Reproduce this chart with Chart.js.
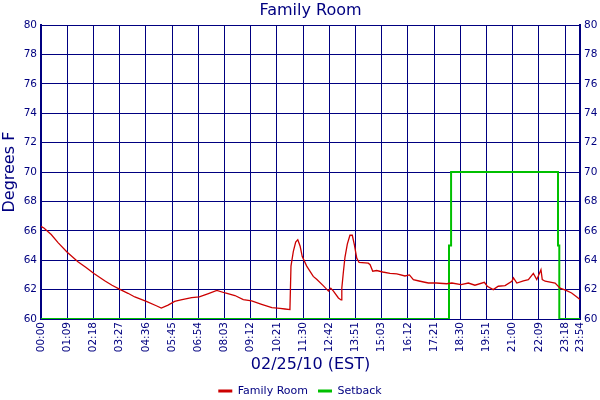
<!DOCTYPE html>
<html>
<head>
<meta charset="utf-8">
<script src="https://cdn.jsdelivr.net/npm/chart.js@4"></script>
<style>
  html, body { margin: 0; padding: 0; background: #fff; }
  #wrap { width: 600px; height: 400px; }
</style>
</head>
<body>
<div id="wrap"><canvas id="chart" width="600" height="400"></canvas></div>
<script>
// Family Room temperature vs setback, one day. x is in "tick slots" (one slot per labelled tick).

const TICK_LABELS = ['00:00', '01:09', '02:18', '03:27', '04:36', '05:45', '06:54', '08:03', '09:12', '10:21',
  '11:30', '12:42', '13:51', '15:03', '16:12', '17:21', '18:30', '19:51', '21:00', '22:09', '23:18', '23:54'];
const AXIS_END = 20.57; // where 23:54 sits

const Y_MIN = 60;
const Y_MAX = 80;

const ROOM_POS = [0, 0.11, 0.39, 0.65, 1.00, 1.41, 1.72, 2.02, 2.43, 2.71, 3.03, 3.32, 3.58, 4.02, 4.40, 4.59,
  4.85, 5.10, 5.34, 5.75, 6.04, 6.39, 6.71, 7.03, 7.40, 7.72, 8.04, 8.42, 8.81, 9.12, 9.31, 9.50,
  9.54, 9.63, 9.72, 9.80, 9.89, 9.97, 10.14, 10.39, 10.52, 10.77, 10.97, 11.06, 11.16, 11.35, 11.45,
  11.48, 11.54, 11.60, 11.69, 11.79, 11.88, 11.96, 12.05, 12.14, 12.49, 12.56, 12.66, 12.81, 13.04,
  13.32, 13.58, 13.89, 14.06, 14.21, 14.47, 14.78, 15.08, 15.48, 15.68, 16.03, 16.31, 16.56, 16.92,
  17.03, 17.26, 17.45, 17.71, 17.97, 18.03, 18.16, 18.41, 18.60, 18.79, 18.92, 19.08, 19.13, 19.24,
  19.62, 19.81, 20.04, 20.25, 20.45, 20.57];
const ROOM_TEMP = [66.3, 66.2, 65.75, 65.2, 64.55, 63.9, 63.5, 63.1, 62.6, 62.3, 62.0, 61.75, 61.5, 61.2, 60.9, 60.75,
  60.95, 61.2, 61.3, 61.45, 61.5, 61.73, 61.95, 61.77, 61.6, 61.32, 61.23, 61.0, 60.77, 60.72, 60.68, 60.64,
  63.6, 64.6, 65.23, 65.4, 64.95, 64.25, 63.6, 62.9, 62.7, 62.27, 61.9, 62.1, 61.9, 61.43, 61.3,
  62.1, 63.2, 64.2, 65.1, 65.7, 65.7, 65.05, 64.14, 63.85, 63.8, 63.7, 63.25, 63.3, 63.2,
  63.1, 63.07, 62.93, 63.0, 62.68, 62.57, 62.45, 62.45, 62.4, 62.45, 62.34, 62.45, 62.3, 62.5,
  62.23, 62.0, 62.23, 62.27, 62.57, 62.8, 62.45, 62.6, 62.68, 63.1, 62.68, 63.35, 62.68, 62.57,
  62.45, 62.1, 61.95, 61.77, 61.5, 61.32];

const SETBACK_POS = [0, 15.57, 15.57, 15.65, 15.65, 19.73, 19.73, 19.78, 19.78, 20.57];
const SETBACK_TEMP = [60, 60, 65, 65, 70, 70, 65, 65, 60, 60];

const NAVY = '#000080';
const FONT = 'DejaVu Sans';
const TICK_FONT = { family: FONT, size: 10.5 };

const toPoints = (xs, ys) => xs.map((x, i) => ({ x, y: ys[i] }));

new Chart(document.getElementById('chart'), {
  type: 'line',
  data: {
    datasets: [
      {
        label: 'Family Room',
        data: toPoints(ROOM_POS, ROOM_TEMP),
        borderColor: '#cc0000',
        backgroundColor: '#cc0000',
        borderWidth: 1.3,
        pointRadius: 0,
        tension: 0,
        fill: false,
      },
      {
        label: 'Setback',
        data: toPoints(SETBACK_POS, SETBACK_TEMP),
        borderColor: '#00c000',
        backgroundColor: '#00c000',
        borderWidth: 2,
        pointRadius: 0,
        tension: 0,
        fill: false,
      },
    ],
  },
  options: {
    responsive: false,
    animation: false,
    // legend sits a bit lower than chart.js would put it by default
    layout: { padding: { top: 0, left: 0, right: 0, bottom: -6.5 } },
    plugins: {
      title: {
        display: true,
        fullSize: false,
        text: 'Family Room',
        color: NAVY,
        font: { family: FONT, size: 16, weight: 'normal' },
        padding: { top: 1, bottom: 5 },
      },
      legend: {
        position: 'bottom',
        labels: {
          color: NAVY,
          font: { family: FONT, size: 11 },
          usePointStyle: true,
          pointStyle: 'line',
          pointStyleWidth: 14,
          padding: 10,
          generateLabels: (chart) => Chart.defaults.plugins.legend.labels.generateLabels(chart)
            .map((l) => ({ ...l, lineWidth: 3 })),
        },
      },
      tooltip: { enabled: false },
    },
    scales: {
      x: {
        type: 'linear',
        min: 0,
        max: AXIS_END,
        afterBuildTicks: (s) => {
          s.ticks = TICK_LABELS.map((_, i) => ({ value: i === TICK_LABELS.length - 1 ? AXIS_END : i }));
        },
        afterFit: (s) => { s.height = 56.5; },
        ticks: {
          color: NAVY,
          font: TICK_FONT,
          autoSkip: false,
          minRotation: 90,
          maxRotation: 90,
          padding: 3,
          callback: (v, i) => TICK_LABELS[i],
        },
        grid: { color: NAVY, lineWidth: 1, drawTicks: false },
        border: { color: NAVY, width: 1 },
        title: {
          display: true,
          text: '02/25/10 (EST)',
          color: NAVY,
          font: { family: FONT, size: 16 },
          padding: { top: 0, bottom: 1 },
        },
      },
      y: {
        position: 'left',
        min: Y_MIN,
        max: Y_MAX,
        afterFit: (s) => { s.width = 41; },
        ticks: { stepSize: 2, color: NAVY, font: TICK_FONT, padding: 4 },
        grid: { color: NAVY, lineWidth: 1, drawTicks: false },
        border: { color: NAVY, width: 2 },
        title: {
          display: true,
          text: 'Degrees F',
          color: NAVY,
          font: { family: FONT, size: 16 },
          padding: 0,
        },
      },
      y2: {
        position: 'right',
        min: Y_MIN,
        max: Y_MAX,
        afterFit: (s) => { s.width = 20; },
        ticks: { stepSize: 2, color: NAVY, font: TICK_FONT, padding: 4 },
        grid: { display: false, drawTicks: false },
        border: { color: NAVY, width: 2 },
      },
    },
  },
});
</script>
</body>
</html>
